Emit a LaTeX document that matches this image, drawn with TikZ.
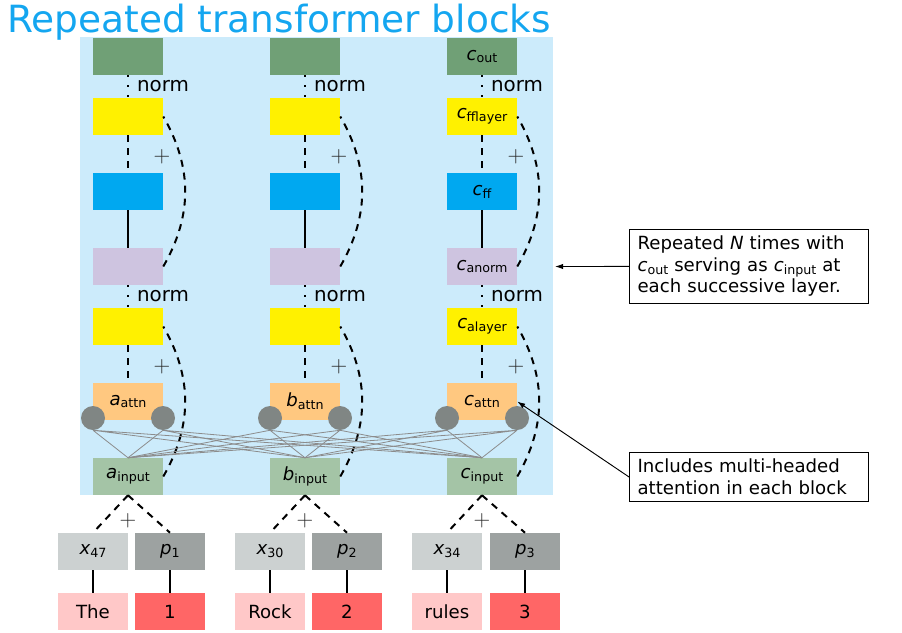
\documentclass[tikz,border=0pt]{standalone}
\usepackage{fontspec}
\setmainfont{DejaVu Sans}
\usepackage{xcolor}
\definecolor{OutCol}{RGB}{112,160,118}
\definecolor{LayerCol}{RGB}{255,241,0}
\definecolor{FfCol}{RGB}{0,168,240}
\definecolor{NormCol}{RGB}{206,196,224}
\definecolor{AttnCol}{RGB}{255,200,128}
\definecolor{InputCol}{RGB}{164,196,166}
\definecolor{EmbCol}{RGB}{204,209,209}
\definecolor{PosCol}{RGB}{157,162,161}
\definecolor{WordCol}{RGB}{255,200,200}
\definecolor{NumCol}{RGB}{255,102,102}
\definecolor{BgCol}{RGB}{204,235,251}
\definecolor{TitleCol}{RGB}{20,166,240}
\definecolor{HeadCol}{RGB}{128,134,132}
\usepackage{tikz}
\usetikzlibrary{arrows.meta}
\newcommand{\Vsub}[2]{\textit{#1}\raisebox{-0.3ex}{\fontsize{9.5}{10}\selectfont #2}}
\tikzstyle{Block}=[minimum width=52.5pt,minimum height=27.75pt,inner sep=0pt,
font=\fontsize{13.6}{16}\selectfont]
\tikzstyle{Head}=[circle,fill=HeadCol,minimum size=18pt,inner sep=0pt]
\tikzstyle{NormLabel}=[inner sep=0pt,font=\fontsize{14.9}{16}\selectfont]
\tikzstyle{Plus}=[inner sep=0pt,text=black!85,font=\fontsize{16}{16}\selectfont]
\tikzstyle{Note}=[draw=black,line width=0.8pt,fill=white,align=left,text width=167pt,
inner xsep=6pt,inner ysep=5pt,font=\fontsize{13.6}{16.1}\selectfont]
\tikzstyle{Edge}=[draw=black,line width=1.5pt]
\tikzstyle{Dash}=[Edge,dash pattern=on 5.25pt off 4.5pt]
\tikzstyle{Dot}=[Edge,dash pattern=on 1.5pt off 6pt]
\tikzstyle{HeadEdge}=[draw=black!45,line width=0.6pt]
\tikzstyle{Arrow}=[draw=black,line width=0.7pt,-{Latex[length=6pt,width=4pt]}]

\begin{document}
\begin{tikzpicture}[x=0.75pt,y=-0.75pt]
    \useasboundingbox (0,0) rectangle (902,632);
    \fill[BgCol] (80,37) rectangle (553,495);
    \node[anchor=base west,inner sep=0pt,text=TitleCol,font=\fontsize{28.1}{30}\selectfont]
        (title) at (7,32) {Repeated transformer blocks};
    % column a
    \node[Block,fill=OutCol](Aout)at(128,56.5){};
    \node[Block,fill=LayerCol](Affl)at(128,116.5){};
    \node[Block,fill=FfCol](Aff)at(128,191.5){};
    \node[Block,fill=NormCol](Aan)at(128,266.5){};
    \node[Block,fill=LayerCol](Aal)at(128,326.5){};
    \node[Block,fill=AttnCol](Aattn)at(128,401.5){\Vsub{a}{attn}};
    \node[Block,fill=InputCol](Ain)at(128,476.5){\Vsub{a}{input}};
    \node[Block,fill=EmbCol](Ax)at(93,551.5){\Vsub{x}{47}};
    \node[Block,fill=PosCol](Ap)at(170,551.5){\Vsub{p}{1}};
    \node[Block,fill=WordCol](Aw)at(93,611.5){The};
    \node[Block,fill=NumCol](Anum)at(170,611.5){1};
    \node[Head](AhL)at(93,418){};
    \node[Head](AhR)at(163,418){};
    \node[NormLabel](AnT)at(163,86.5){norm};
    \node[NormLabel](AnB)at(163,296.5){norm};
    \node[Plus](AplT)at(162,157){$+$};
    \node[Plus](AplB)at(162,367){$+$};
    \node[Plus](AplE)at(128,521){$+$};
    % column b
    \node[Block,fill=OutCol](Bout)at(305,56.5){};
    \node[Block,fill=LayerCol](Bffl)at(305,116.5){};
    \node[Block,fill=FfCol](Bff)at(305,191.5){};
    \node[Block,fill=NormCol](Ban)at(305,266.5){};
    \node[Block,fill=LayerCol](Bal)at(305,326.5){};
    \node[Block,fill=AttnCol](Battn)at(305,401.5){\Vsub{b}{attn}};
    \node[Block,fill=InputCol](Bin)at(305,476.5){\Vsub{b}{input}};
    \node[Block,fill=EmbCol](Bx)at(270,551.5){\Vsub{x}{30}};
    \node[Block,fill=PosCol](Bp)at(347,551.5){\Vsub{p}{2}};
    \node[Block,fill=WordCol](Bw)at(270,611.5){Rock};
    \node[Block,fill=NumCol](Bnum)at(347,611.5){2};
    \node[Head](BhL)at(270,418){};
    \node[Head](BhR)at(340,418){};
    \node[NormLabel](BnT)at(340,86.5){norm};
    \node[NormLabel](BnB)at(340,296.5){norm};
    \node[Plus](BplT)at(339,157){$+$};
    \node[Plus](BplB)at(339,367){$+$};
    \node[Plus](BplE)at(305,521){$+$};
    % column c
    \node[Block,fill=OutCol](Cout)at(482,56.5){\Vsub{c}{out}};
    \node[Block,fill=LayerCol](Cffl)at(482,116.5){\Vsub{c}{fflayer}};
    \node[Block,fill=FfCol](Cff)at(482,191.5){\Vsub{c}{ff}};
    \node[Block,fill=NormCol](Can)at(482,266.5){\Vsub{c}{anorm}};
    \node[Block,fill=LayerCol](Cal)at(482,326.5){\Vsub{c}{alayer}};
    \node[Block,fill=AttnCol](Cattn)at(482,401.5){\Vsub{c}{attn}};
    \node[Block,fill=InputCol](Cin)at(482,476.5){\Vsub{c}{input}};
    \node[Block,fill=EmbCol](Cx)at(447,551.5){\Vsub{x}{34}};
    \node[Block,fill=PosCol](Cp)at(525,551.5){\Vsub{p}{3}};
    \node[Block,fill=WordCol](Cw)at(447,611.5){rules};
    \node[Block,fill=NumCol](Cnum)at(525,611.5){3};
    \node[Head](ChL)at(447,418){};
    \node[Head](ChR)at(517,418){};
    \node[NormLabel](CnT)at(517,86.5){norm};
    \node[NormLabel](CnB)at(517,296.5){norm};
    \node[Plus](CplT)at(516,157){$+$};
    \node[Plus](CplB)at(516,367){$+$};
    \node[Plus](CplE)at(482,521){$+$};
    % notes
    \node[Note,anchor=north west](noteRep)at(629,229){Repeated \textit{N} times with\\
        \Vsub{c}{out} serving as \Vsub{c}{input} at\\ each successive layer.};
    \node[Note,anchor=north west](noteAttn)at(629,452){Includes multi-headed\\
        attention in each block};
    \coordinate(bgEdge)at(555,266.5);
    % edges a
    \draw[Dot](Aout)--(Affl);
    \draw[Dash](Affl)--(Aff);
    \draw[Edge](Aff)--(Aan);
    \draw[Dot](Aan)--(Aal);
    \draw[Dash](Aal)--(Aattn);
    \draw[Dash](Aan.east)to[bend right=30](Affl.east);
    \draw[Dash](Ain.east)to[bend right=30](Aal.east);
    \draw[Dash](Ain.south)--(Ax.north);
    \draw[Dash](Ain.south)--(Ap.north);
    \draw[Edge](Ax)--(Aw);
    \draw[Edge](Ap)--(Anum);
    % edges b
    \draw[Dot](Bout)--(Bffl);
    \draw[Dash](Bffl)--(Bff);
    \draw[Edge](Bff)--(Ban);
    \draw[Dot](Ban)--(Bal);
    \draw[Dash](Bal)--(Battn);
    \draw[Dash](Ban.east)to[bend right=30](Bffl.east);
    \draw[Dash](Bin.east)to[bend right=30](Bal.east);
    \draw[Dash](Bin.south)--(Bx.north);
    \draw[Dash](Bin.south)--(Bp.north);
    \draw[Edge](Bx)--(Bw);
    \draw[Edge](Bp)--(Bnum);
    % edges c
    \draw[Dot](Cout)--(Cffl);
    \draw[Dash](Cffl)--(Cff);
    \draw[Edge](Cff)--(Can);
    \draw[Dot](Can)--(Cal);
    \draw[Dash](Cal)--(Cattn);
    \draw[Dash](Can.east)to[bend right=30](Cffl.east);
    \draw[Dash](Cin.east)to[bend right=30](Cal.east);
    \draw[Dash](Cin.south)--(Cx.north);
    \draw[Dash](Cin.south)--(Cp.north);
    \draw[Edge](Cx)--(Cw);
    \draw[Edge](Cp)--(Cnum);
    % heads
    \draw[HeadEdge](AhL.south)--(Ain.north) (AhL.south)--(Bin.north) (AhL.south)--(Cin.north);
    \draw[HeadEdge](AhR.south)--(Ain.north) (AhR.south)--(Bin.north) (AhR.south)--(Cin.north);
    \draw[HeadEdge](BhL.south)--(Ain.north) (BhL.south)--(Bin.north) (BhL.south)--(Cin.north);
    \draw[HeadEdge](BhR.south)--(Ain.north) (BhR.south)--(Bin.north) (BhR.south)--(Cin.north);
    \draw[HeadEdge](ChL.south)--(Ain.north) (ChL.south)--(Bin.north) (ChL.south)--(Cin.north);
    \draw[HeadEdge](ChR.south)--(Ain.north) (ChR.south)--(Bin.north) (ChR.south)--(Cin.north);
    % callouts
    \draw[Arrow](noteRep.west)--(bgEdge);
    \draw[Arrow](noteAttn.west)--(Cattn.east);
\end{tikzpicture}
\end{document}
